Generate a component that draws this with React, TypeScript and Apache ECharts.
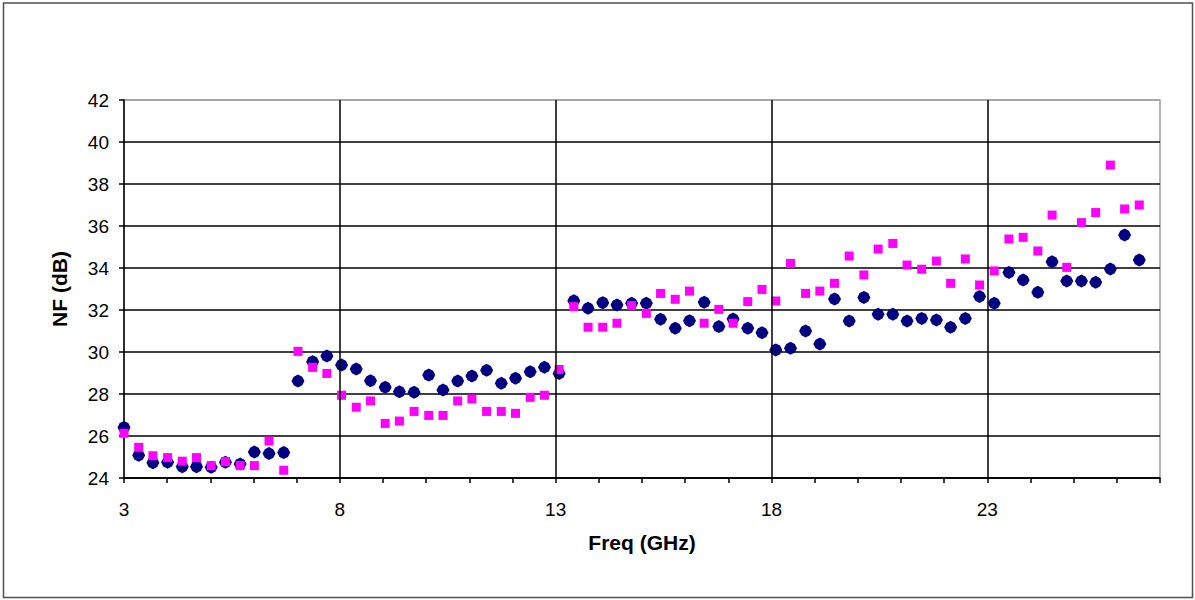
import React, { useEffect, useRef } from "react";
import * as echarts from "echarts";

const freqGHz = [
  3.0, 3.34, 3.67, 4.01, 4.35, 4.68, 5.02, 5.35, 5.69, 6.02, 6.36, 6.7,
  7.03, 7.37, 7.7, 8.04, 8.38, 8.71, 9.05, 9.38, 9.72, 10.06, 10.39, 10.73, 11.06, 11.4, 11.74, 12.07, 12.41, 12.74, 13.08,
  13.42, 13.75, 14.09, 14.42, 14.76, 15.1, 15.43, 15.77, 16.1, 16.44, 16.78, 17.11, 17.45, 17.78, 18.1, 18.44, 18.79, 19.12,
  19.46, 19.8, 20.14, 20.47, 20.81, 21.14, 21.48, 21.82, 22.15, 22.49, 22.82, 23.16, 23.5, 23.83, 24.17, 24.5, 24.84, 25.18,
  25.51, 25.85, 26.18, 26.52,
];

const nfNavy = [
  26.41, 25.08, 24.73, 24.75, 24.54, 24.54, 24.51, 24.75, 24.67, 25.24, 25.17, 25.21,
  28.62, 29.54, 29.81, 29.38, 29.19, 28.63, 28.32, 28.11, 28.08, 28.9, 28.19, 28.62, 28.86, 29.13, 28.51, 28.75, 29.06, 29.27, 28.98,
  32.44, 32.08, 32.35, 32.24, 32.32, 32.32, 31.56, 31.13, 31.49, 32.37, 31.21, 31.57, 31.13, 30.92, 30.1, 30.18, 31.0, 30.38,
  32.52, 31.48, 32.6, 31.8, 31.8, 31.48, 31.6, 31.52, 31.18, 31.6, 32.64, 32.32, 33.79, 33.43, 32.84, 34.3, 33.38, 33.38,
  33.32, 33.95, 35.57, 34.38,
];

const nfPink = [
  26.13, 25.46, 25.06, 24.97, 24.8, 24.97, 24.59, 24.78, 24.59, 24.59, 25.76, 24.37,
  30.03, 29.27, 28.98, 27.94, 27.37, 27.67, 26.6, 26.71, 27.17, 26.98, 26.98, 27.67, 27.76, 27.17, 27.17, 27.08, 27.84, 27.94, 29.17,
  32.16, 31.18, 31.18, 31.37, 32.21, 31.84, 32.79, 32.51, 32.9, 31.37, 32.03, 31.37, 32.4, 32.98, 32.43, 34.22, 32.79, 32.9,
  33.27, 34.57, 33.67, 34.9, 35.17, 34.14, 33.94, 34.33, 33.27, 34.43, 33.19, 33.86, 35.38, 35.46, 34.81, 36.52, 34.03, 36.16,
  36.64, 38.9, 36.81, 37.0,
];

const xLabelValues = [3, 8, 13, 18, 23];
const xGridValues = [8, 13, 18, 23];
const xRange = [3, 27];
const yRange = [24, 42];

const FONT = "'Liberation Sans', Arial, sans-serif";

export default function App() {
  const ref = useRef<HTMLDivElement>(null);

  useEffect(() => {
    if (!ref.current) return;
    const chart = echarts.init(ref.current, null, { renderer: "svg" });
    const navyPts = freqGHz.map((f, i) => [f, nfNavy[i]]);
    const pinkPts = freqGHz.map((f, i) => [f, nfPink[i]]);
    const splitColors = ["#000", "#000", "#000", "#000", "#000", "#000", "#000", "#000", "#000", "#a0a0a0"];

    chart.setOption({
      animation: false,
      backgroundColor: "#ffffff",
      textStyle: { fontFamily: FONT },
      graphic: [
        {
          type: "rect",
          shape: { x: 3.5, y: 3, width: 1189, height: 594.5 },
          style: { fill: "none", stroke: "#505050", lineWidth: 1.5 },
          silent: true,
          z: -1,
        },
      ],
      grid: {
        left: 124,
        right: 35,
        top: 100,
        bottom: 122,
        show: true,
        borderColor: "#a0a0a0",
        borderWidth: 1.5,
        backgroundColor: "transparent",
      },
      xAxis: {
        type: "value",
        min: xRange[0],
        max: xRange[1],
        interval: 1,
        name: "Freq (GHz)",
        nameLocation: "middle",
        nameGap: 54,
        nameTextStyle: { fontFamily: FONT, fontSize: 21, fontWeight: "bold", color: "#000" },
        axisLine: { show: true, onZero: false, lineStyle: { color: "#000", width: 1.5 } },
        axisTick: { show: true, inside: false, length: 5, lineStyle: { color: "#000", width: 1.5 } },
        axisLabel: {
          show: true,
          margin: 22,
          fontFamily: FONT,
          fontSize: 19,
          color: "#000",
          formatter: (v: number) => (xLabelValues.includes(v) ? String(v) : ""),
        },
        splitLine: { show: false },
      },
      yAxis: {
        type: "value",
        min: yRange[0],
        max: yRange[1],
        interval: 2,
        name: "NF (dB)",
        nameLocation: "middle",
        nameGap: 54,
        nameRotate: 90,
        nameTextStyle: { fontFamily: FONT, fontSize: 21, fontWeight: "bold", color: "#000" },
        axisLine: { show: true, onZero: false, lineStyle: { color: "#000", width: 1.5 } },
        axisTick: { show: true, inside: false, length: 5, lineStyle: { color: "#000", width: 1.5 } },
        axisLabel: { show: true, margin: 15, fontFamily: FONT, fontSize: 19, color: "#000" },
        splitLine: { show: true, lineStyle: { color: splitColors, width: 1.5 } },
      },
      series: [
        {
          name: "grid",
          type: "scatter",
          data: [],
          silent: true,
          z: 1,
          markLine: {
            silent: true,
            symbol: ["none", "none"],
            label: { show: false },
            lineStyle: { color: "#000", width: 1.5, type: "solid" },
            data: xGridValues.map((v) => ({ xAxis: v })),
          },
        },
        {
          name: "Series 1",
          type: "scatter",
          data: navyPts,
          symbol: "path://M5,0 L8.3,1.7 L10,5 L8.3,8.3 L5,10 L1.7,8.3 L0,5 L1.7,1.7 Z",
          symbolSize: 13,
          itemStyle: { color: "#000080", opacity: 1 },
          z: 3,
        },
        {
          name: "Series 2",
          type: "scatter",
          data: pinkPts,
          symbol: "rect",
          symbolSize: 9,
          itemStyle: { color: "#ff00ff", opacity: 1 },
          z: 4,
        },
      ],
    });
    return () => chart.dispose();
  }, []);

  return (
    <div
      ref={ref}
      style={{ position: "absolute", left: 0, top: 0, width: 1195, height: 600, background: "#fff" }}
    />
  );
}
